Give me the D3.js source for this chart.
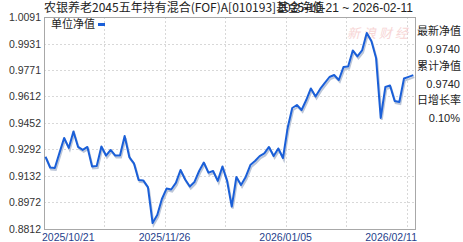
<!DOCTYPE html>
<html><head><meta charset="utf-8">
<script src="https://cdn.jsdelivr.net/npm/d3@7/dist/d3.min.js"></script>
<style>
html,body{margin:0;padding:0;background:#fff;}
svg{display:block;}
</style></head>
<body>
<svg id="c" width="463" height="242"></svg>
<script>
const title = "农银养老2045五年持有混合(FOF)A[010193]基金净值";
const rangeText = "2025-10-21 ~ 2026-02-11";
const seriesName = "单位净值";
const dates = [
 "2025-10-21","2025-10-22","2025-10-23","2025-10-24","2025-10-27","2025-10-28","2025-10-29","2025-10-30","2025-10-31",
 "2025-11-03","2025-11-04","2025-11-05","2025-11-06","2025-11-07","2025-11-10","2025-11-11","2025-11-12","2025-11-13","2025-11-14",
 "2025-11-17","2025-11-18","2025-11-19","2025-11-20","2025-11-21","2025-11-24","2025-11-25","2025-11-26","2025-11-27","2025-11-28",
 "2025-12-01","2025-12-02","2025-12-03","2025-12-04","2025-12-05","2025-12-08","2025-12-09","2025-12-10","2025-12-11","2025-12-12",
 "2025-12-15","2025-12-16","2025-12-17","2025-12-18","2025-12-19","2025-12-22","2025-12-23","2025-12-24","2025-12-25","2025-12-26",
 "2025-12-29","2025-12-30","2025-12-31",
 "2026-01-05","2026-01-06","2026-01-07","2026-01-08","2026-01-09","2026-01-12","2026-01-13","2026-01-14","2026-01-15","2026-01-16",
 "2026-01-19","2026-01-20","2026-01-21","2026-01-22","2026-01-23","2026-01-26","2026-01-27","2026-01-28","2026-01-29","2026-01-30",
 "2026-02-02","2026-02-03","2026-02-04","2026-02-05","2026-02-06","2026-02-09","2026-02-10","2026-02-11"
];
const nav = [
 0.9248,0.9183,0.9180,0.9271,0.9361,0.9301,0.9400,0.9307,0.9289,
 0.9307,0.9189,0.9192,0.9310,0.9255,0.9289,0.9255,0.9255,0.9373,0.9246,
 0.9208,0.9108,0.9105,0.9065,0.8848,0.8897,0.8993,0.9056,0.9050,0.9090,
 0.9168,0.9111,0.9068,0.9096,0.9162,0.9213,0.9152,0.9162,0.9102,0.9189,
 0.9102,0.8947,0.9126,0.9078,0.9126,0.9198,0.9222,0.9252,0.9268,0.9307,
 0.9252,0.9298,0.9240,
 0.9421,0.9542,0.9560,0.9530,0.9590,0.9660,0.9611,0.9657,0.9693,0.9729,
 0.9741,0.9711,0.9789,0.9792,0.9889,0.9853,0.9889,0.9995,0.9946,0.9844,
 0.9482,0.9669,0.9678,0.9584,0.9578,0.9720,0.9730,0.9740
];
const yTicks = [1.0091,0.9931,0.9771,0.9612,0.9452,0.9292,0.9132,0.8972,0.8812];
const xGridDates = ["2025-11-07","2025-11-26","2025-12-15","2026-01-05","2026-01-22","2026-02-10"];
const xTickDates = ["2025-10-21","2025-11-26","2026-01-05","2026-02-11"];
const infoLabels = ["最新净值","累计净值","日增长率"];
const infoValues = ["0.9740","0.9740","0.10%"];

const svg = d3.select("#c");
const L = 44, R = 415, T = 17, B = 229;
const x = d3.scalePoint().domain(dates).range([45.5, 413.3]);
const y = d3.scaleLinear().domain([0.8812, 1.0091]).range([B, T]);
const latin = "'Liberation Sans', Arial, sans-serif";
const cjk = "'Noto Sans CJK SC', 'Liberation Sans', sans-serif";

// grid
const g = svg.append("g");
g.selectAll("line.h").data(yTicks.slice(1, -1)).enter().append("line")
  .attr("x1", L).attr("x2", R).attr("y1", d => Math.round(y(d)) + 0.5).attr("y2", d => Math.round(y(d)) + 0.5)
  .attr("stroke", "#d8d8d8").attr("stroke-dasharray", "2,2");
g.selectAll("line.v").data(xGridDates).enter().append("line")
  .attr("y1", T).attr("y2", B).attr("x1", d => Math.round(x(d)) - 1.5).attr("x2", d => Math.round(x(d)) - 1.5)
  .attr("stroke", "#d8d8d8").attr("stroke-dasharray", "2,2");

// watermark
svg.append("text").attr("x", 347).attr("y", 38).text("新浪财经")
  .attr("font-family", cjk).attr("font-size", 13).attr("fill", "#f6cccc")
  .attr("font-style", "italic").attr("letter-spacing", 3).attr("opacity", 0.8);

// frame
svg.append("rect").attr("x", L + 0.5).attr("y", T + 0.5).attr("width", R - L).attr("height", B - T)
  .attr("fill", "none").attr("stroke", "#a8a8a8");

// line
const line = d3.line().x((d, i) => x(dates[i])).y(d => y(d));
svg.append("path").datum(nav).attr("d", line).attr("fill", "none")
  .attr("stroke", "#bcc6d8").attr("stroke-width", 2).attr("transform", "translate(1,2)");
svg.append("path").datum(nav).attr("d", line).attr("fill", "none")
  .attr("stroke", "#1a5fd8").attr("stroke-width", 2).attr("stroke-linejoin", "round");

// y axis labels
svg.selectAll("text.yl").data(yTicks).enter().append("text")
  .attr("x", 41).attr("y", d => y(d) + 4).attr("text-anchor", "end")
  .attr("font-family", latin).attr("font-size", 10.5).attr("fill", "#333")
  .text(d => d.toFixed(4));

// x axis labels
svg.selectAll("text.xl").data(xTickDates).enter().append("text")
  .attr("x", (d, i) => i === 0 ? 42 : (i === xTickDates.length - 1 ? 417 : x(d) - 2))
  .attr("y", 241)
  .attr("text-anchor", (d, i) => i === 0 ? "start" : (i === xTickDates.length - 1 ? "end" : "middle"))
  .attr("font-family", latin).attr("font-size", 10.5).attr("fill", "#1f3f8c")
  .text(d => d.replace(/-/g, "/"));

// title
svg.append("text").attr("x", 413).attr("y", 12).attr("text-anchor", "end")
  .attr("font-family", latin).attr("font-size", 12).attr("fill", "#222").text(rangeText);
svg.append("text").attr("x", 44).attr("y", 12)
  .attr("font-family", cjk).attr("font-size", 12).attr("fill", "#222").text(title);

// legend
svg.append("text").attr("x", 51).attr("y", 28)
  .attr("font-family", cjk).attr("font-size", 11).attr("fill", "#222").text(seriesName);
svg.append("rect").attr("x", 98).attr("y", 23).attr("width", 7).attr("height", 3).attr("fill", "#1a5fd8");

// info panel
infoLabels.forEach((lab, i) => {
  svg.append("text").attr("x", 417).attr("y", 35 + i * 34.5)
    .attr("font-family", cjk).attr("font-size", 11).attr("fill", "#222").text(lab);
  svg.append("text").attr("x", 460).attr("y", 53 + i * 34.5).attr("text-anchor", "end")
    .attr("font-family", latin).attr("font-size", 11).attr("fill", "#222").text(infoValues[i]);
});
</script>
</body></html>
